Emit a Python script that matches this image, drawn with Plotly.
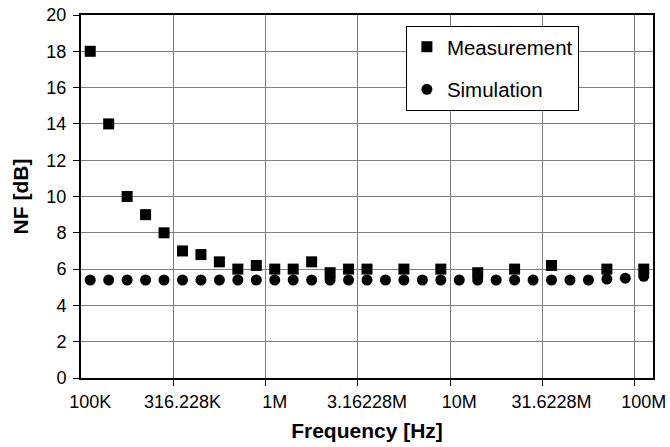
import plotly.graph_objects as go

# Frequency categories (Hz), 10 points per decade
freq_hz = [100e3, 125.893e3, 158.489e3, 199.526e3, 251.189e3, 316.228e3, 398.107e3,
           501.187e3, 630.957e3, 794.328e3, 1e6, 1.25893e6, 1.58489e6, 1.99526e6,
           2.51189e6, 3.16228e6, 3.98107e6, 5.01187e6, 6.30957e6, 7.94328e6, 10e6,
           12.5893e6, 15.8489e6, 19.9526e6, 25.1189e6, 31.6228e6, 39.8107e6,
           50.1187e6, 63.0957e6, 79.4328e6, 100e6]

measurement_nf = [18, 14, 10, 9, 8, 7.0, 6.8, 6.4, 6.0, 6.2, 6.0, 6.0, 6.4, 5.8, 6.0,
                  6.0, None, 6.0, None, 6.0, None, 5.8, None, 6.0, None, 6.2, None,
                  None, 6.0, None, 6.0]

simulation_nf = [5.4, 5.4, 5.4, 5.4, 5.4, 5.4, 5.4, 5.4, 5.4, 5.4, 5.4, 5.4, 5.4, 5.4,
                 5.4, 5.4, 5.4, 5.4, 5.4, 5.4, 5.4, 5.4, 5.4, 5.4, 5.4, 5.4, 5.4,
                 5.4, 5.45, 5.5, 5.6]

tick_vals = [100e3, 316.228e3, 1e6, 3.16228e6, 10e6, 31.6228e6, 100e6]
tick_text = ["100K", "316.228K", "1M", "3.16228M", "10M", "31.6228M", "100M"]
grid_vals = [281.838e3, 891.251e3, 2.81838e6, 8.91251e6, 28.1838e6, 89.1251e6]

FONT = "Liberation Sans, Arial, sans-serif"

fig = go.Figure()
fig.add_trace(go.Scatter(
    x=freq_hz, y=measurement_nf, mode="markers", name="Measurement",
    legendgroup="m",
    marker=dict(symbol="square", size=11, color="black"),
))
fig.add_trace(go.Scatter(
    x=freq_hz, y=simulation_nf, mode="markers", name="Simulation",
    legendgroup="s",
    marker=dict(symbol="circle", size=11, color="black"),
))

fig.update_layout(
    width=670, height=447,
    margin=dict(l=81, r=17, t=15, b=69),
    paper_bgcolor="white", plot_bgcolor="white",
    font=dict(family=FONT, color="black", size=18),
    showlegend=True,
    legend=dict(
        x=0.568, y=0.97, xanchor="left", yanchor="top",
        bgcolor="white", bordercolor="black", borderwidth=1,
        font=dict(family=FONT, size=20.5, color="black"),
        tracegroupgap=13, traceorder="grouped",
    ),
)

fig.update_xaxes(
    type="log", range=[4.95, 8.05], automargin=False,
    tickmode="array", tickvals=tick_vals, ticktext=tick_text,
    ticks="", showgrid=False, ticklabelstandoff=6,
    tickfont=dict(family=FONT, size=18, color="black"),
    showline=True, linecolor="black", linewidth=2, mirror=True,
    zeroline=False,
    minor=dict(tickmode="array", tickvals=grid_vals, showgrid=True,
               gridcolor="#808080", gridwidth=1, ticks="outside", ticklen=6,
               tickcolor="black", tickwidth=1),
    title=dict(text="<b>Frequency [Hz]</b>", standoff=13,
               font=dict(family=FONT, size=21, color="black")),
)

fig.update_yaxes(
    range=[0, 20], tickmode="linear", tick0=0, dtick=2, automargin=False,
    ticks="outside", ticklen=6, tickcolor="black", tickwidth=1,
    showgrid=True, gridcolor="#808080", gridwidth=1, ticklabelstandoff=3,
    tickfont=dict(family=FONT, size=18, color="black"),
    showline=True, linecolor="black", linewidth=2, mirror=True,
    zeroline=False,
    title=dict(text="<b>NF [dB]</b>", standoff=12,
               font=dict(family=FONT, size=21, color="black")),
)

fig.write_html("out.html", config={"displayModeBar": False},
               post_script="document.body.style.margin='0';document.body.style.overflow='hidden';")
